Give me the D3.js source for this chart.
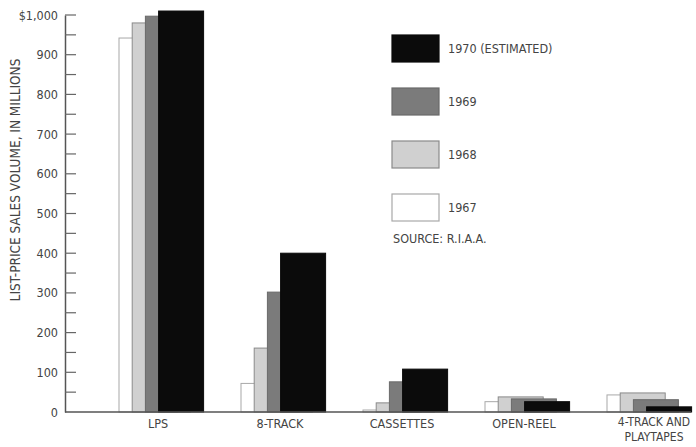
<!DOCTYPE html>
<html>
<head>
<meta charset="utf-8">
<script src="https://cdn.jsdelivr.net/npm/d3@7"></script>
<style>
  html, body { margin: 0; padding: 0; background: #fff; }
  text { font-family: "Liberation Sans Narrow", "DejaVu Sans Condensed", "Roboto Condensed", sans-serif; fill: #444; }
</style>
</head>
<body>
<svg id="chart" width="696" height="447"></svg>
<script>
// ---- data ----
const categories = ["LPS", "8-TRACK", "CASSETTES", "OPEN-REEL", "4-TRACK AND PLAYTAPES"];
const years = ["1967", "1968", "1969", "1970 (ESTIMATED)"];
const sales1967 = [942, 72, 5, 26, 43];
const sales1968 = [980, 161, 23, 38, 48];
const sales1969 = [997, 302, 76, 33, 31];
const sales1970 = [1010, 400, 108, 26, 13];
const yTicks = [0, 100, 200, 300, 400, 500, 600, 700, 800, 900, 1000];
const minorTicks = [50, 150, 250, 350, 450, 550, 650, 750, 850, 950];
const sourceNote = "SOURCE: R.I.A.A.";
const yTitle = "LIST-PRICE SALES VOLUME, IN MILLIONS";

const series = [sales1967, sales1968, sales1969, sales1970];
const fills = ["#ffffff", "#d0d0d0", "#7b7b7b", "#0b0b0b"];
const strokes = ["#a8a8a8", "#8a8a8a", "#6a6a6a", "#0b0b0b"];

const svg = d3.select("#chart");

const y = d3.scaleLinear().domain([0, 1000]).range([412, 15]);
const x = d3.scaleBand().domain(categories).range([119, 119 + 122 * categories.length]).paddingInner(0).paddingOuter(0);
const barOffset = 13.2, barWidth = 45;

// bars: 1967 first (behind), 1970 last (front)
series.forEach((vals, si) => {
  svg.append("g").selectAll("rect")
    .data(vals.map((v, ci) => ({ v, c: categories[ci] })))
    .join("rect")
    .attr("x", d => x(d.c) + si * barOffset)
    .attr("y", d => y(d.v))
    .attr("width", barWidth)
    .attr("height", d => y(0) - y(d.v))
    .attr("fill", fills[si])
    .attr("stroke", strokes[si])
    .attr("stroke-width", 1);
});

// y axis
const yAxis = d3.axisLeft(y)
  .tickValues(yTicks)
  .tickSize(0)
  .tickPadding(7)
  .tickFormat(d => d === 1000 ? "$1,000" : d3.format(",")(d));
const gy = svg.append("g").attr("transform", "translate(65,0)").call(yAxis);
gy.select(".domain").attr("stroke", "#555").attr("stroke-width", 1.5);
gy.selectAll("text").style("font-size", "12.5px").attr("fill", "#444");

// inward ticks every 50
svg.append("g").selectAll("line")
  .data(yTicks.concat(minorTicks).filter(d => d > 0))
  .join("line")
  .attr("x1", 65).attr("x2", 76)
  .attr("y1", d => y(d)).attr("y2", d => y(d))
  .attr("stroke", "#666").attr("stroke-width", 1.2);

// baseline
svg.append("line")
  .attr("x1", 65).attr("x2", 691)
  .attr("y1", y(0)).attr("y2", y(0))
  .attr("stroke", "#555").attr("stroke-width", 1.5);

// category labels
const labels = svg.append("g");
categories.forEach((c, i) => {
  const cx = x(c) + 39 + (i === categories.length - 1 ? 8 : 0);
  if (c === "4-TRACK AND PLAYTAPES") {
    labels.append("text").attr("x", cx).attr("y", 426)
      .attr("text-anchor", "middle").style("font-size", "12px").text("4-TRACK AND");
    labels.append("text").attr("x", cx).attr("y", 441)
      .attr("text-anchor", "middle").style("font-size", "12px").text("PLAYTAPES");
  } else {
    labels.append("text").attr("x", cx).attr("y", 428)
      .attr("text-anchor", "middle").style("font-size", "12.5px").text(c);
  }
});

// y title
svg.append("text")
  .attr("transform", "translate(20,180) rotate(-90)")
  .attr("text-anchor", "middle")
  .style("font-size", "13.5px")
  .text(yTitle);

// legend (top to bottom: 1970, 1969, 1968, 1967)
const legendOrder = [3, 2, 1, 0];
const lg = svg.append("g");
legendOrder.forEach((si, k) => {
  const ly = 35 + k * 53;
  lg.append("rect").attr("x", 392).attr("y", ly).attr("width", 47).attr("height", 27)
    .attr("fill", fills[si]).attr("stroke", strokes[si]).attr("stroke-width", 1.2);
  lg.append("text").attr("x", 448).attr("y", ly + 18).style("font-size", "12.5px").text(years[si]);
});
lg.append("text").attr("x", 393).attr("y", 243).style("font-size", "12.5px").text(sourceNote);
</script>
</body>
</html>
